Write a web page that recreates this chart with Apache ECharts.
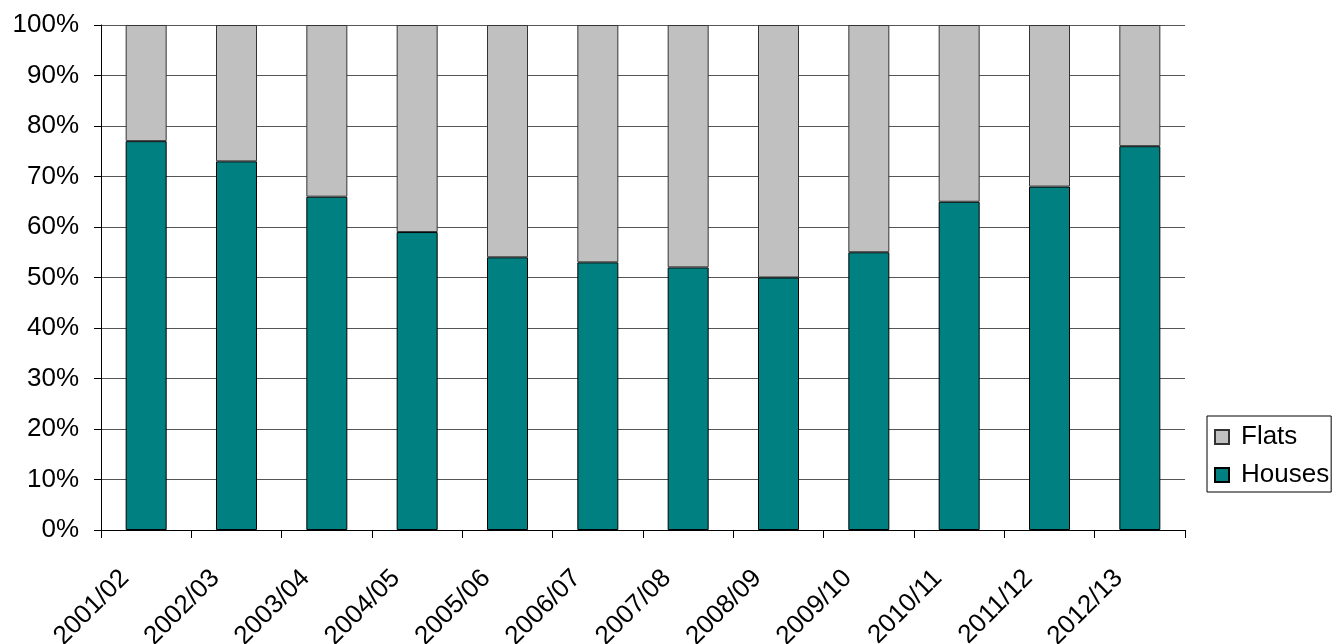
<!DOCTYPE html>
<html><head><meta charset="utf-8">
<script src="https://cdn.jsdelivr.net/npm/echarts@6/dist/echarts.min.js"></script>
<style>html,body{margin:0;padding:0;background:#fff}#c{width:1332px;height:644px}</style>
</head><body><div id="c"></div>
<script>
const categories = ['2001/02','2002/03','2003/04','2004/05','2005/06','2006/07','2007/08','2008/09','2009/10','2010/11','2011/12','2012/13'];
const houses = [77,73,66,59,54,53,52,50,55,65,68,76];
const flats = [23,27,34,41,46,47,48,50,45,35,32,24];
const yTicks = [0,10,20,30,40,50,60,70,80,90,100];

const chart = echarts.init(document.getElementById('c'), null, {renderer:'canvas'});
const font = 'Liberation Sans, Arial, sans-serif';
chart.setOption({
  animation:false,
  backgroundColor:'#fff',
  grid:{left:101,right:147,top:25,bottom:114,containLabel:false,outerBoundsMode:'none'},
  legend:{
    data:['Flats','Houses'],
    orient:'vertical',
    left:1207, top:416,
    itemWidth:14,itemHeight:14,itemGap:12,
    padding:[8,2,4,7],
    borderColor:'#000',borderWidth:1,
    icon:'rect',
    textStyle:{fontFamily:font,fontSize:26,lineHeight:26,color:'#000',padding:[0,0,0,7]}
  },
  xAxis:{
    type:'category',data:categories,boundaryGap:true,
    axisLine:{lineStyle:{color:'#000',width:1}},
    axisTick:{show:true,alignWithLabel:false,length:8,lineStyle:{color:'#000'}},
    axisLabel:{rotate:45,fontFamily:font,fontSize:26,color:'#000',margin:23,interval:0,padding:[0,30,0,0],hideOverlap:false}
  },
  yAxis:{
    type:'value',min:0,max:100,interval:10,
    axisLine:{show:true,lineStyle:{color:'#000'}},
    axisTick:{show:true,length:7,lineStyle:{color:'#000'}},
    axisLabel:{fontFamily:font,fontSize:26,color:'#000',margin:22,formatter:v=>yTicks.includes(v)?v+'%':''},
    splitLine:{show:true,lineStyle:{color:'#555',width:1}}
  },
  series:[
    {name:'Houses',type:'bar',stack:'a',data:houses,barWidth:41,
     itemStyle:{color:'#008080',borderColor:'#000',borderWidth:1}},
    {name:'Flats',type:'bar',stack:'a',data:flats,barWidth:41,
     itemStyle:{color:'#c0c0c0',borderColor:'#333',borderWidth:1}}
  ]
});
</script></body></html>
